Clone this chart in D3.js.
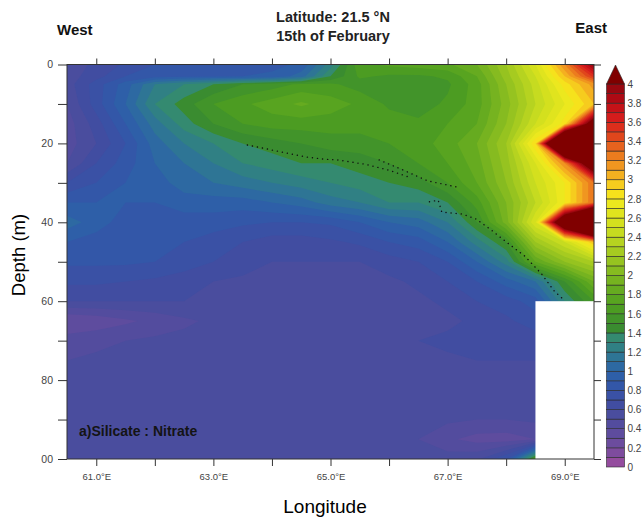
<!DOCTYPE html>
<html>
<head>
<meta charset="utf-8">
<script src="https://cdn.jsdelivr.net/npm/d3@7"></script>
<style>
  body { margin: 0; background: #fff; }
  svg { display: block; font-family: "Liberation Sans", Arial, sans-serif; }
</style>
</head>
<body>
<svg id="chart" width="642" height="517"></svg>
<script>
// grid of the section, west -> east and surface -> bottom
const lons = [60.5, 61, 61.5, 62, 62.5, 63, 63.5, 64, 64.5, 65, 65.5, 66, 66.5, 67, 67.5, 68, 68.5, 69, 69.5];
const depths = [0, 3, 5, 10, 15, 20, 25, 30, 35, 40, 45, 50, 55, 60, 65, 70, 80, 90, 95, 100];

// silicate : nitrate ratio, one row per depth
const ratio = [
  [0.55,0.62,0.72,0.80,0.84,0.85,0.86,0.87,0.92,1.25,1.68,1.72,1.75,1.78,1.90,2.20,2.60,3.20,4.00],
  [0.55,0.66,0.80,0.86,0.88,0.89,0.90,0.92,1.05,1.40,1.62,1.58,1.58,1.62,1.80,2.15,2.50,3.00,3.55],
  [0.55,0.75,0.95,1.20,1.30,1.40,1.50,1.55,1.62,1.62,1.55,1.53,1.53,1.58,1.75,2.10,2.45,2.85,3.15],
  [0.50,0.75,1.00,1.30,1.45,1.60,1.68,1.75,1.82,1.75,1.68,1.58,1.55,1.62,1.75,2.05,2.40,2.70,3.00],
  [0.45,0.65,0.90,1.15,1.35,1.50,1.60,1.65,1.65,1.65,1.65,1.65,1.62,1.70,1.80,2.10,2.50,2.85,4.40],
  [0.45,0.60,0.80,1.05,1.20,1.30,1.40,1.45,1.50,1.55,1.55,1.60,1.65,1.75,1.90,2.20,2.90,6.00,7.00],
  [0.50,0.70,0.85,1.00,1.10,1.20,1.30,1.35,1.40,1.40,1.45,1.50,1.60,1.70,1.85,2.15,2.60,3.20,4.60],
  [0.70,0.80,0.90,0.95,1.05,1.10,1.15,1.20,1.25,1.30,1.35,1.40,1.45,1.60,1.80,2.10,2.50,2.80,3.30],
  [0.90,0.90,0.90,0.90,0.95,0.95,0.95,1.00,1.05,1.15,1.20,1.30,1.30,1.40,1.65,2.00,2.40,2.80,3.30],
  [1.05,0.95,0.85,0.85,0.85,0.85,0.82,0.80,0.80,0.82,0.90,1.00,1.05,1.20,1.50,1.95,2.60,4.80,6.50],
  [0.90,0.85,0.82,0.82,0.80,0.75,0.70,0.65,0.65,0.68,0.72,0.80,0.85,1.00,1.25,1.50,2.20,2.50,3.00],
  [0.82,0.82,0.82,0.80,0.75,0.70,0.65,0.60,0.60,0.60,0.60,0.65,0.70,0.80,1.00,1.25,1.80,2.10,2.30],
  [0.72,0.72,0.70,0.68,0.65,0.60,0.58,0.55,0.55,0.55,0.55,0.58,0.62,0.70,0.80,0.95,1.10,1.50,1.90],
  [0.60,0.60,0.60,0.60,0.60,0.56,0.55,0.55,0.55,0.55,0.55,0.55,0.58,0.62,0.70,0.75,0.85,1.30,1.60],
  [0.30,0.33,0.38,0.43,0.48,0.52,0.55,0.55,0.55,0.55,0.55,0.56,0.57,0.58,0.62,0.68,0.75,0.75,0.75],
  [0.45,0.48,0.50,0.52,0.53,0.55,0.55,0.55,0.55,0.55,0.56,0.58,0.60,0.62,0.65,0.65,0.65,0.65,0.65],
  [0.55,0.55,0.55,0.55,0.55,0.55,0.55,0.55,0.55,0.55,0.55,0.55,0.55,0.55,0.55,0.55,0.55,0.55,0.55],
  [0.55,0.55,0.55,0.55,0.55,0.55,0.55,0.55,0.55,0.55,0.55,0.55,0.55,0.52,0.50,0.50,0.52,0.52,0.52],
  [0.55,0.55,0.55,0.55,0.55,0.55,0.55,0.55,0.55,0.55,0.55,0.53,0.50,0.42,0.36,0.35,0.40,0.40,0.40],
  [0.55,0.55,0.55,0.55,0.55,0.55,0.55,0.55,0.55,0.55,0.55,0.55,0.55,0.55,0.58,0.80,1.60,1.60,1.60]
];

// no data east of 68.5E below 60 m
const noDataLon = [68.5, 69.5];
const noDataDepth = [60, 100];

// dotted line drawn over the section
const dotLon1 = [63.58, 63.85, 64.04, 64.4, 64.61, 64.9, 65.13, 65.6, 66.0, 66.31];
const dotDepth1 = [20.4, 21.2, 21.8, 22.9, 23.5, 24.0, 24.2, 25.3, 26.8, 28.4];
const dotLon2 = [65.83, 66.2, 66.66, 67.14];
const dotDepth2 = [24.2, 26.5, 29.5, 31.0];
const dotLon3 = [66.69, 66.84, 66.9, 67.25, 67.49, 67.73, 68.03, 68.32, 68.6, 68.83, 69.0];
const dotDepth3 = [34.8, 34.4, 37.4, 37.9, 39.2, 41.8, 45.3, 48.6, 53.0, 57.6, 59.8];

const lonTicks = [61, 62, 63, 64, 65, 66, 67, 68, 69];
const lonLabels = ['61.0°E', '', '63.0°E', '', '65.0°E', '', '67.0°E', '', '69.0°E'];
const depthTicks = [0, 10, 20, 30, 40, 50, 60, 70, 80, 90, 100];
const depthLabels = ['0', '', '20', '', '40', '', '60', '', '80', '', '00'];
const levels = d3.range(0, 41).map(i => i / 10);
const levelLabels = d3.range(0, 21).map(i => i / 5);

const bandColors = [
  '#944c9e', '#7e4c9e', '#6c4c9e', '#5e4c9e', '#534c9e', '#4a4d9e', '#414da1', '#3a51a5', '#3357a8', '#2e5fa8',
  '#2d69a2', '#2e7595', '#308084', '#348a70', '#3a8c30', '#42942a', '#4c9c22', '#58a420', '#66ab20', '#76b320',
  '#86bb20', '#96c320', '#a6cb20', '#b6d320', '#c6db20', '#d4e01e', '#e0e41e', '#ece81e', '#f6e21c', '#f6cc1e',
  '#f4b020', '#f09620', '#ec7c1e', '#e6621e', '#e0461c', '#dc2e1c', '#d41c1c', '#c41218', '#ae0a14', '#980810'
];
const overColor = '#800000';
const colorFor = v => {
  const i = Math.round(v * 10);
  return i >= bandColors.length ? overColor : bandColors[Math.max(0, i)];
};

const svg = d3.select('#chart');

const x = d3.scaleLinear().domain([60.5, 69.5]).range([67, 594]);
const y = d3.scaleLinear().domain([0, 100]).range([64.5, 459]);

// contour the grid, then map grid cells back to lon / depth
const nx = lons.length;
const ny = depths.length;
const contours = d3.contours().size([nx, ny]).thresholds(levels)(ratio.flat());

const lonAt = d3.scaleLinear().domain(d3.range(nx)).range(lons).clamp(true);
const depthAt = d3.scaleLinear().domain(d3.range(ny)).range(depths).clamp(true);
const projection = d3.geoTransform({
  point(gx, gy) { this.stream.point(x(lonAt(gx - 0.5)), y(depthAt(gy - 0.5))); }
});
const path = d3.geoPath(projection);

const plot = svg.append('g').attr('class', 'plot-area');

plot.selectAll('path.band')
  .data(contours)
  .join('path')
    .attr('class', 'band')
    .attr('d', path)
    .attr('fill', d => colorFor(d.value))
    ;

plot.append('rect')
  .attr('x', x(noDataLon[0]))
  .attr('y', y(noDataDepth[0]))
  .attr('width', x(noDataLon[1]) - x(noDataLon[0]))
  .attr('height', y(noDataDepth[1]) - y(noDataDepth[0]))
  .attr('fill', '#fff');

const line = d3.line().x(d => x(d[0])).y(d => y(d[1]));
[[dotLon1, dotDepth1], [dotLon2, dotDepth2], [dotLon3, dotDepth3]].forEach(([lo, de]) => {
  plot.append('path')
    .attr('d', line(lo.map((v, i) => [v, de[i]])))
    .attr('fill', 'none')
    .attr('stroke', '#111')
    .attr('stroke-width', 1.4)
    .attr('stroke-linecap', 'round')
    .attr('stroke-dasharray', '0.1,5');
});

plot.append('text')
  .attr('x', 79).attr('y', 436)
  .attr('font-size', 14).attr('font-weight', 'bold').attr('fill', '#141414')
  .text('a)Silicate : Nitrate');

// frame and axes
plot.append('rect')
  .attr('x', x.range()[0]).attr('y', y.range()[0])
  .attr('width', x.range()[1] - x.range()[0])
  .attr('height', y.range()[1] - y.range()[0])
  .attr('fill', 'none').attr('stroke', '#333').attr('stroke-width', 1);

const styleAxis = g => {
  g.select('.domain').remove();
  g.selectAll('.tick line').attr('stroke', '#333');
  g.selectAll('.tick text').attr('fill', '#444').attr('font-size', 9.5)
    .attr('font-family', '"Liberation Sans", Arial, sans-serif');
};

svg.append('g')
  .attr('transform', `translate(0, ${y.range()[1]})`)
  .call(d3.axisBottom(x).tickValues(lonTicks).tickSize(7).tickPadding(7)
    .tickFormat((d, i) => lonLabels[i]))
  .call(styleAxis);

svg.append('g')
  .attr('transform', `translate(0, ${y.range()[0]})`)
  .call(d3.axisTop(x).tickValues(lonTicks).tickSize(6).tickFormat(''))
  .call(styleAxis);

svg.append('g')
  .attr('transform', `translate(${x.range()[0]}, 0)`)
  .call(d3.axisLeft(y).tickValues(depthTicks).tickSize(9).tickPadding(5)
    .tickFormat((d, i) => depthLabels[i]))
  .call(styleAxis)
  .call(g => g.selectAll('.tick text').attr('font-size', 10.5));

svg.append('g')
  .attr('transform', `translate(${x.range()[1]}, 0)`)
  .call(d3.axisRight(y).tickValues(depthTicks).tickSize(7).tickFormat(''))
  .call(styleAxis);

// colour bar
const cbX = 606.5;
const cbW = 18;
const cb = d3.scaleLinear().domain([0, 4]).range([467, 84]);
const bar = svg.append('g').attr('class', 'colorbar');

bar.selectAll('rect')
  .data(levels.slice(0, -1))
  .join('rect')
    .attr('x', cbX)
    .attr('y', d => cb(d + 0.1))
    .attr('width', cbW)
    .attr('height', d => cb(d) - cb(d + 0.1))
    .attr('fill', d => colorFor(d))
    .attr('stroke', '#2a2a2a')
    .attr('stroke-width', 0.6);

bar.append('path')
  .attr('d', `M${cbX},${cb(4)}L${cbX + cbW / 2},65L${cbX + cbW},${cb(4)}Z`)
  .attr('fill', overColor)
  .attr('stroke', '#2a2a2a')
  .attr('stroke-width', 0.6);

bar.append('g')
  .attr('transform', `translate(${cbX + cbW}, 0)`)
  .call(d3.axisRight(cb).tickValues(levelLabels).tickSize(0).tickPadding(3)
    .tickFormat(d3.format('~g')))
  .call(styleAxis)
  .call(g => g.selectAll('.tick text').attr('font-size', 10));

// titles
svg.append('text')
  .attr('x', 333).attr('y', 22).attr('text-anchor', 'middle')
  .attr('font-size', 14.5).attr('font-weight', 'bold').attr('fill', '#222')
  .text('Latitude: 21.5 °N');
svg.append('text')
  .attr('x', 333).attr('y', 41).attr('text-anchor', 'middle')
  .attr('font-size', 14.5).attr('font-weight', 'bold').attr('fill', '#222')
  .text('15th of February');
svg.append('text')
  .attr('x', 57).attr('y', 35)
  .attr('font-size', 15).attr('font-weight', 'bold').attr('fill', '#111')
  .text('West');
svg.append('text')
  .attr('x', 607).attr('y', 33).attr('text-anchor', 'end')
  .attr('font-size', 15).attr('font-weight', 'bold').attr('fill', '#111')
  .text('East');

svg.append('text')
  .attr('transform', 'translate(25, 255) rotate(-90)')
  .attr('text-anchor', 'middle')
  .attr('font-size', 18.5).attr('fill', '#000')
  .text('Depth (m)');
svg.append('text')
  .attr('x', 325).attr('y', 513).attr('text-anchor', 'middle')
  .attr('font-size', 19).attr('fill', '#000')
  .text('Longitude');
</script>
</body>
</html>
